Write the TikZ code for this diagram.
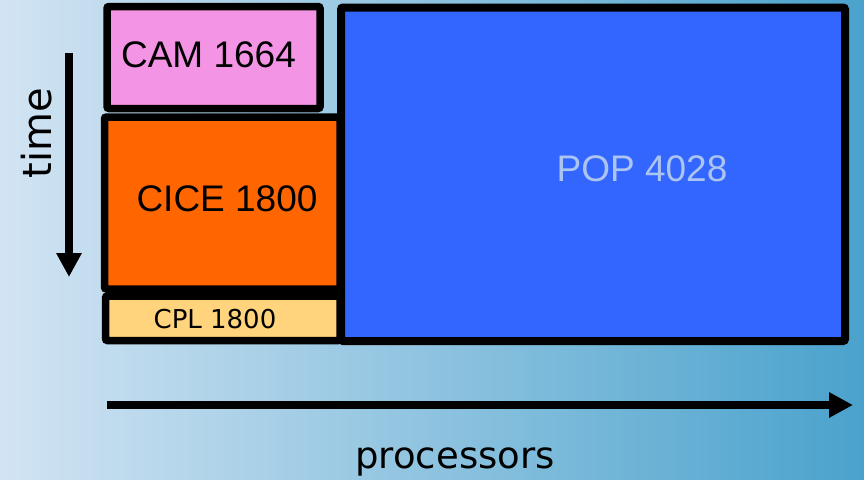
\documentclass[tikz,border=0pt]{standalone}
\usepackage{fontspec}
\setmainfont{Liberation Sans}
\newfontfamily\dejavu{DejaVu Sans}
\usetikzlibrary{arrows.meta}
\definecolor{bgleft}{RGB}{210,228,243}
\definecolor{bgright}{RGB}{74,162,204}
\definecolor{campink}{RGB}{243,148,228}
\definecolor{ciceorange}{RGB}{255,102,0}
\definecolor{cplyellow}{RGB}{255,212,124}
\definecolor{popblue}{RGB}{51,102,255}
\definecolor{poptext}{RGB}{172,196,240}
\tikzset{
  compbox/.style={draw=black, line width=7.5pt, rounded corners=2pt, inner sep=0pt, minimum width=#1},
  bigtxt/.style={font=\fontsize{37}{40}\selectfont, inner sep=0pt, anchor=base},
  axisarrow/.style={line width=8.5pt, -{Triangle[length=24pt,width=24pt]}},
  axistxt/.style={font=\dejavu\fontsize{37}{40}\selectfont, inner sep=0pt, anchor=base}
}
\begin{document}
\begin{tikzpicture}[x=1pt,y=-1pt]
\useasboundingbox (0,0) rectangle (864,479);
\shade[left color=bgleft, right color=bgright] (0,0) rectangle (864,479);
% boxes
\node[compbox=213pt, minimum height=102pt, fill=campink] (cam) at (213.5,57.5) {};
\node[compbox=235.5pt, minimum height=172pt, fill=ciceorange] (cice) at (222.25,203) {};
\node[compbox=234.5pt, minimum height=44.5pt, fill=cplyellow] (cpl) at (222.75,318.25) {};
\node[compbox=504pt, minimum height=333.5pt, fill=popblue, line width=8pt] (pop) at (593,174.25) {};
% labels
\node[bigtxt] (camlbl) at (208.5,67) {CAM 1664};
\node[bigtxt] (cicelbl) at (227,211) {CICE 1800};
\node[axistxt, font=\dejavu\fontsize{26}{28}\selectfont] (cpllbl) at (215,328) {CPL 1800};
\node[bigtxt, text=poptext] (poplbl) at (642,181) {POP 4028};
% axes
\coordinate (tstart) at (69,53);
\coordinate (tend) at (69,277);
\draw[axisarrow] (tstart) -- (tend);
\coordinate (pstart) at (107,405);
\coordinate (pend) at (853,405);
\draw[axisarrow] (pstart) -- (pend);
\node[axistxt, font=\dejavu\fontsize{40}{44}\selectfont, rotate=90] (timelbl) at (51,133) {time};
\node[axistxt] (proclbl) at (455,468) {processors};
\end{tikzpicture}
\end{document}
